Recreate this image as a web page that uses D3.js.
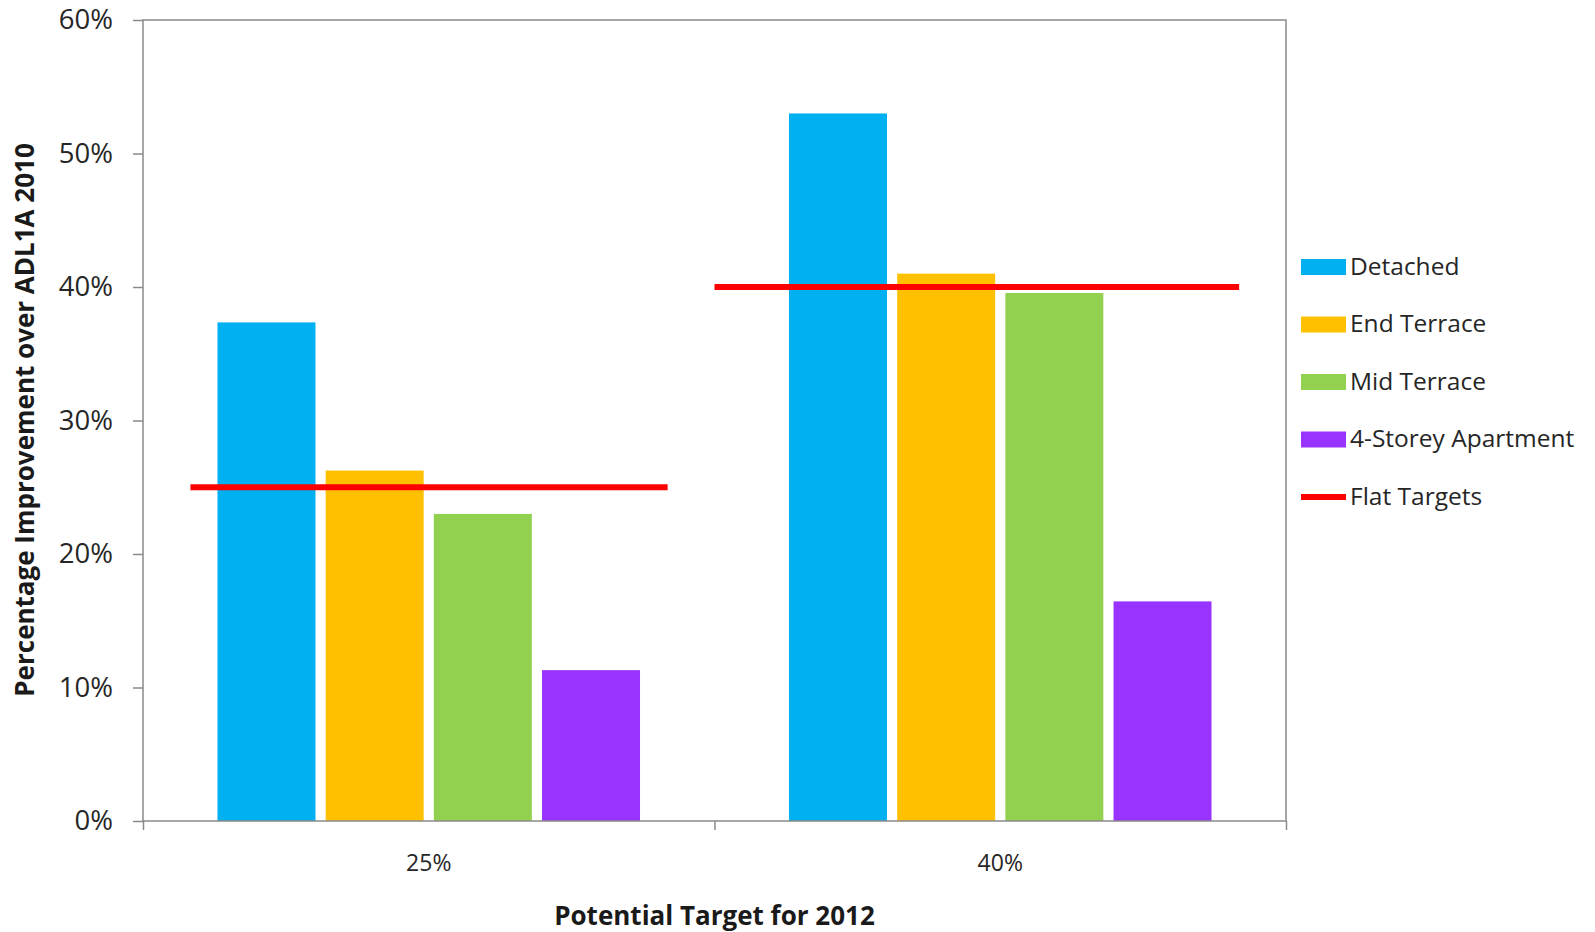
<!DOCTYPE html>
<html>
<head>
<meta charset="utf-8">
<script src="https://cdn.jsdelivr.net/npm/d3@7/dist/d3.min.js"></script>
<style>
  body { margin: 0; background: #fff; }
  text { font-family: "Open Sans", "Noto Sans", sans-serif; }
</style>
</head>
<body>
<svg id="chart" width="1595" height="932"></svg>
<script>
// Potential 2012 targets and the improvement each dwelling type achieves
const categories = ["25%", "40%"];
const seriesNames = ["Detached", "End Terrace", "Mid Terrace", "4-Storey Apartment"];
const detached = [0.3735, 0.530];
const endTerrace = [0.2625, 0.410];
const midTerrace = [0.230, 0.3955];
const apartment = [0.113, 0.1645];
// Flat target lines, value plus start/end in category units (category i spans i..i+1)
const flatTargets = [0.25, 0.40];
const flatTargetStart = [0.083, 1.0];
const flatTargetEnd = [0.918, 1.918];
const yTicks = [0, 0.1, 0.2, 0.3, 0.4, 0.5, 0.6];

const seriesValues = [detached, endTerrace, midTerrace, apartment];
const colors = ["#00B0F0", "#FFC000", "#92D050", "#9933FF"];
const targetColor = "#FF0000";
const axisColor = "#8a8a8a";

const plot = { left: 143, right: 1286, top: 20, bottom: 821 };
const svg = d3.select("#chart");

const x = d3.scaleBand().domain(categories).range([plot.left, plot.right]).padding(0);
const xc = d3.scaleLinear().domain([0, categories.length]).range([plot.left, plot.right]);
const xInner = d3.scaleBand().domain(seriesNames).range([0, x.bandwidth()])
  .paddingInner(0.0943).paddingOuter(0.6885);
const y = d3.scaleLinear().domain([0, 0.6]).range([plot.bottom, plot.top]);

// bars
const groups = svg.append("g").selectAll("g")
  .data(categories).join("g")
  .attr("transform", d => `translate(${x(d)},0)`);
groups.selectAll("rect")
  .data((c, ci) => seriesNames.map((s, si) => ({ s, si, v: seriesValues[si][ci] })))
  .join("rect")
  .attr("x", d => xInner(d.s))
  .attr("width", xInner.bandwidth())
  .attr("y", d => y(d.v))
  .attr("height", d => y(0) - y(d.v))
  .attr("fill", d => colors[d.si]);

// flat target lines
svg.append("g").selectAll("line")
  .data(flatTargets).join("line")
  .attr("x1", (d, i) => xc(flatTargetStart[i]))
  .attr("x2", (d, i) => xc(flatTargetEnd[i]))
  .attr("y1", d => y(d)).attr("y2", d => y(d))
  .attr("stroke", targetColor).attr("stroke-width", 6);

// plot frame
svg.append("rect")
  .attr("x", plot.left).attr("y", plot.top)
  .attr("width", plot.right - plot.left).attr("height", plot.bottom - plot.top)
  .attr("fill", "none").attr("stroke", axisColor).attr("stroke-width", 1.5);

// y axis
const yAxis = svg.append("g").attr("transform", `translate(${plot.left},0)`)
  .call(d3.axisLeft(y).tickValues(yTicks).tickFormat(d3.format(".0%")).tickSize(10).tickPadding(20));
yAxis.select(".domain").remove();
yAxis.selectAll(".tick line").attr("stroke", axisColor).attr("stroke-width", 1.5);
yAxis.selectAll(".tick text").attr("font-size", 27.5).attr("fill", "#262626")
  .attr("font-family", "'Open Sans', sans-serif");

// x axis: tick marks at category boundaries, labels at centres
const xTicks = svg.append("g").attr("transform", `translate(0,${plot.bottom})`)
  .call(d3.axisBottom(xc).tickValues(d3.range(categories.length + 1)).tickFormat("").tickSize(9));
xTicks.select(".domain").remove();
xTicks.selectAll(".tick line").attr("stroke", axisColor).attr("stroke-width", 1.5);

const xLabels = svg.append("g").attr("transform", `translate(0,${plot.bottom})`)
  .call(d3.axisBottom(x).tickSize(0).tickPadding(34));
xLabels.select(".domain").remove();
xLabels.selectAll(".tick text").attr("font-size", 23).attr("fill", "#262626")
  .attr("font-family", "'Open Sans', sans-serif");

// axis titles
svg.append("text")
  .attr("x", (plot.left + plot.right) / 2).attr("y", 925)
  .attr("text-anchor", "middle").attr("font-size", 26).attr("font-weight", "bold")
  .attr("fill", "#1a1a1a")
  .text("Potential Target for 2012");

svg.append("text")
  .attr("transform", "translate(34,420) rotate(-90)")
  .attr("text-anchor", "middle").attr("font-size", 26).attr("font-weight", "bold")
  .attr("fill", "#1a1a1a")
  .text("Percentage Improvement over ADL1A 2010");

// legend
const legendItems = seriesNames.map((s, i) => ({ name: s, color: colors[i], type: "box" }))
  .concat([{ name: "Flat Targets", color: targetColor, type: "line" }]);
const legend = svg.append("g").attr("transform", "translate(1301,267)");
const li = legend.selectAll("g").data(legendItems).join("g")
  .attr("transform", (d, i) => `translate(0,${i * 57.5})`);
li.filter(d => d.type === "box").append("rect")
  .attr("x", 0).attr("y", -8).attr("width", 45).attr("height", 16)
  .attr("fill", d => d.color);
li.filter(d => d.type === "line").append("line")
  .attr("x1", 0).attr("x2", 45).attr("y1", 0).attr("y2", 0)
  .attr("stroke", d => d.color).attr("stroke-width", 6);
li.append("text")
  .attr("x", 49).attr("y", 7.5)
  .attr("font-size", 24.5).attr("fill", "#262626")
  .text(d => d.name);
</script>
</body>
</html>
